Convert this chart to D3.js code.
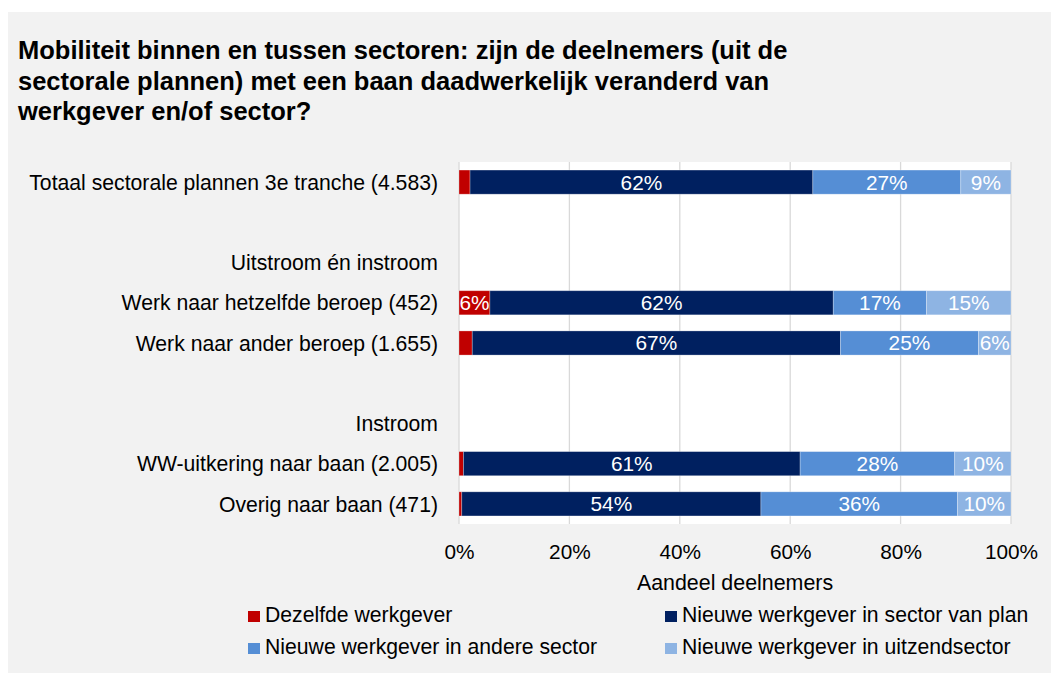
<!DOCTYPE html>
<html>
<head>
<meta charset="utf-8">
<script src="https://cdn.jsdelivr.net/npm/d3@7"></script>
<style>
  body { margin: 0; background: #fff; }
  svg { display: block; font-family: "Liberation Sans", Arial, sans-serif; }
</style>
</head>
<body>
<script>
// rows of the chart, empty strings are spacer rows
var categories = [
  "Totaal sectorale plannen 3e tranche (4.583)",
  "",
  "Uitstroom én instroom",
  "Werk naar hetzelfde beroep (452)",
  "Werk naar ander beroep (1.655)",
  "",
  "Instroom",
  "WW-uitkering naar baan (2.005)",
  "Overig naar baan (471)"
];

// series values in percent (null = no bar on that row)
var dezelfdeWerkgever = [2.0, null, null, 5.6, 2.4, null, null, 0.8, 0.5];
var sectorVanPlan     = [62.1, null, null, 62.2, 66.7, null, null, 61.0, 54.2];
var andereSector      = [26.8, null, null, 16.9, 25.0, null, null, 28.0, 35.6];
var uitzendSector     = [9.1, null, null, 15.3, 5.9, null, null, 10.2, 9.7];

var seriesNames = [
  "Dezelfde werkgever",
  "Nieuwe werkgever in sector van plan",
  "Nieuwe werkgever in andere sector",
  "Nieuwe werkgever in uitzendsector"
];
var seriesColors = ["#c00000", "#002060", "#558ed5", "#8eb4e3"];

var xTicks = [0, 20, 40, 60, 80, 100];

var titleLines = [
  "Mobiliteit binnen en tussen sectoren: zijn de deelnemers (uit de",
  "sectorale plannen) met een baan daadwerkelijk veranderd van",
  "werkgever en/of sector?"
];

var width = 1051, height = 673;
var margin = {left: 459, right: 40, top: 162, bottom: 149};
var fs = 21.2; // label font size

var svg = d3.select("body").append("svg")
  .attr("width", width)
  .attr("height", height);

// grey panel
svg.append("rect")
  .attr("x", 8).attr("y", 12)
  .attr("width", width - 8).attr("height", height - 12)
  .attr("fill", "#f2f2f2");

// title
svg.append("text")
  .attr("x", 18).attr("y", 59)
  .attr("font-size", 25.5).attr("font-weight", "bold").attr("fill", "#000")
  .selectAll("tspan")
  .data(titleLines)
  .enter().append("tspan")
  .attr("x", 18)
  .attr("dy", function(d, i) { return i ? 30.5 : 0; })
  .text(function(d) { return d; });

var x = d3.scaleLinear()
  .domain([0, 100])
  .range([margin.left, width - margin.right]);

var y = d3.scaleBand()
  .domain(d3.range(categories.length))
  .range([margin.top, height - margin.bottom])
  .paddingInner(0.4)
  .paddingOuter(0.2);

// white plot area
svg.append("rect")
  .attr("x", x(0)).attr("y", margin.top)
  .attr("width", x(100) - x(0))
  .attr("height", height - margin.bottom - margin.top)
  .attr("fill", "#fff");

// gridlines
svg.append("g")
  .selectAll("line")
  .data(xTicks)
  .enter().append("line")
  .attr("x1", function(d) { return x(d); })
  .attr("x2", function(d) { return x(d); })
  .attr("y1", margin.top)
  .attr("y2", height - margin.bottom)
  .attr("stroke", "#d9d9d9")
  .attr("stroke-width", 1.3);

// stack the series
var rows = categories.map(function(c, i) {
  return {
    i: i,
    s0: dezelfdeWerkgever[i],
    s1: sectorVanPlan[i],
    s2: andereSector[i],
    s3: uitzendSector[i]
  };
}).filter(function(d) { return d.s0 != null; });

var stack = d3.stack().keys(["s0", "s1", "s2", "s3"]);
var layers = stack(rows);

var layer = svg.append("g")
  .selectAll("g")
  .data(layers)
  .enter().append("g")
  .attr("fill", function(d, i) { return seriesColors[i]; });

layer.selectAll("rect")
  .data(function(d) { return d; })
  .enter().append("rect")
  .attr("x", function(d) { return x(d[0]); })
  .attr("y", function(d) { return y(d.data.i); })
  .attr("width", function(d) { return x(d[1]) - x(d[0]); })
  .attr("height", y.bandwidth())
  .attr("stroke", "#ffffff")
  .attr("stroke-opacity", 0.35)
  .attr("stroke-width", 0.8);

// value labels inside the bars
layer.selectAll("text")
  .data(function(d) { return d.filter(function(p) { return p[1] - p[0] >= 5; }); })
  .enter().append("text")
  .attr("x", function(d) { return (x(d[0]) + x(d[1])) / 2; })
  .attr("y", function(d) { return y(d.data.i) + y.bandwidth() / 2; })
  .attr("dy", "0.36em")
  .attr("text-anchor", "middle")
  .attr("font-size", 20.8)
  .attr("fill", "#fff")
  .text(function(d) { return Math.round(d[1] - d[0]) + "%"; });

// category labels
svg.append("g")
  .selectAll("text")
  .data(categories)
  .enter().append("text")
  .attr("x", x(0) - 21)
  .attr("y", function(d, i) { return y(i) + y.bandwidth() / 2; })
  .attr("dy", "0.36em")
  .attr("text-anchor", "end")
  .attr("font-size", fs)
  .attr("fill", "#000")
  .text(function(d) { return d; });

// x axis tick labels
var xAxis = d3.axisBottom(x)
  .tickValues(xTicks)
  .tickSize(0)
  .tickPadding(20)
  .tickFormat(function(d) { return d + "%"; });

var gx = svg.append("g")
  .attr("transform", "translate(0," + (height - margin.bottom) + ")")
  .call(xAxis);
gx.select(".domain").remove();
gx.selectAll("text")
  .attr("font-size", 20.8)
  .attr("font-family", "Liberation Sans, Arial, sans-serif")
  .attr("fill", "#000");

// axis title
svg.append("text")
  .attr("x", (x(0) + x(100)) / 2)
  .attr("y", 590)
  .attr("text-anchor", "middle")
  .attr("font-size", 21.4)
  .attr("fill", "#000")
  .text("Aandeel deelnemers");

// legend, two columns
var legendPos = [[248, 622], [665, 622], [248, 654], [665, 654]];
var legend = svg.append("g")
  .selectAll("g")
  .data(seriesNames)
  .enter().append("g")
  .attr("transform", function(d, i) {
    return "translate(" + legendPos[i][0] + "," + legendPos[i][1] + ")";
  });

legend.append("rect")
  .attr("x", 0).attr("y", -11)
  .attr("width", 12).attr("height", 11)
  .attr("fill", function(d, i) { return seriesColors[i]; });

legend.append("text")
  .attr("x", 17)
  .attr("y", 0)
  .attr("font-size", fs)
  .attr("fill", "#000")
  .text(function(d) { return d; });
</script>
</body>
</html>
